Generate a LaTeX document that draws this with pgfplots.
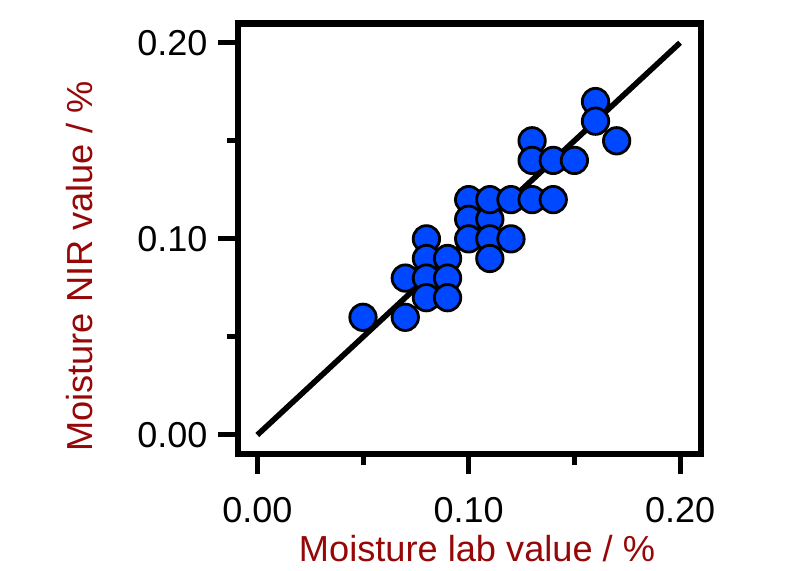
\documentclass[border=0pt]{standalone}
\usepackage{pgfplots}
\pgfplotsset{compat=1.18}
\usepackage{fontspec}
\setmainfont{Liberation Sans}
\definecolor{dotblue}{RGB}{0,72,255}
\definecolor{labred}{RGB}{150,8,8}
\pgfplotstableread{
x y
0.05 0.06
0.07 0.06
0.07 0.08
0.08 0.10
0.08 0.09
0.08 0.08
0.08 0.07
0.09 0.09
0.09 0.08
0.09 0.07
0.10 0.12
0.10 0.11
0.10 0.10
0.11 0.11
0.11 0.12
0.11 0.10
0.11 0.09
0.12 0.12
0.12 0.10
0.13 0.12
0.14 0.12
0.13 0.15
0.13 0.14
0.14 0.14
0.15 0.14
0.16 0.17
0.16 0.16
0.17 0.15
}\pts
\begin{document}
\begin{tikzpicture}
\path[use as bounding box] (-119.15pt,-58pt) rectangle (280.85pt,227pt);
\begin{axis}[
  at={(0,0)}, anchor=south west,
  scale only axis,
  width=231.35pt, height=215.35pt,
  xmin=-0.009, xmax=0.2099,
  ymin=-0.0097, ymax=0.2099,
  xtick={0,0.1,0.2}, ytick={0,0.1,0.2},
  xticklabels={0.00,0.10,0.20}, yticklabels={0.00,0.10,0.20},
  minor xtick={0.05,0.15}, minor ytick={0.05,0.15},
  xtick pos=left, ytick pos=left,
  tick align=outside,
  major tick length=10pt, minor tick length=5.5pt,
  every tick/.style={black, line width=2.5pt},
  axis line style={line width=3.2pt},
  /pgf/number format/assume math mode=true,
  xticklabel style={font=\fontsize{18}{21}\selectfont, inner sep=0pt, anchor=north, yshift=-11.5pt},
  yticklabel style={font=\fontsize{18}{21}\selectfont, inner sep=0pt, anchor=east, xshift=-5.2pt},
  xlabel={Moisture lab value / \%},
  ylabel={Moisture NIR value / \%},
  xlabel style={font=\fontsize{18.1}{21}\selectfont, text=labred, at={(axis description cs:0.516,-0.25)}, anchor=base, inner sep=0pt},
  ylabel style={font=\fontsize{18.1}{21}\selectfont, text=labred, at={(axis description cs:-0.315,0.435)}, anchor=base, inner sep=0pt},
  clip=false,
]
\addplot[only marks, mark=*, mark size=6.6pt, mark options={fill=dotblue, draw=black, line width=1.4pt}] table {\pts};
\addplot[black, line width=2.8pt] coordinates {(0,0) (0.2,0.2)};
\end{axis}
\end{tikzpicture}
\end{document}
